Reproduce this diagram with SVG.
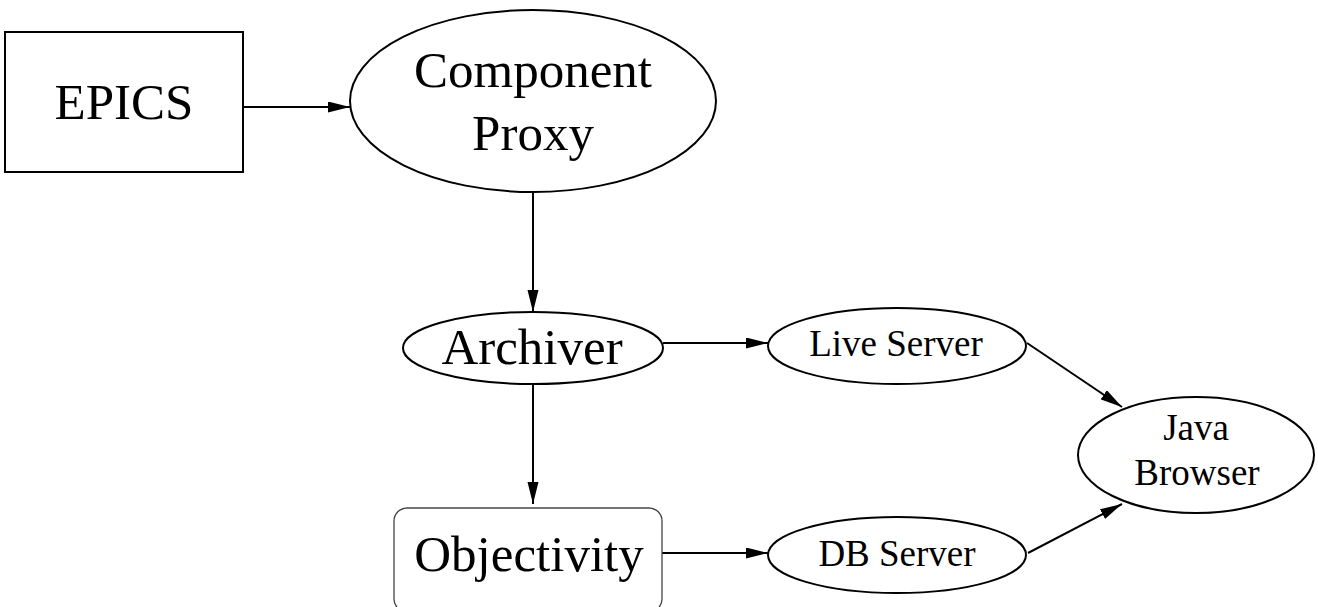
<svg xmlns="http://www.w3.org/2000/svg" width="1318" height="607" viewBox="0 0 1318 607">
<defs>
<style>
.shape{fill:none;stroke:#000;stroke-width:2}
.thin{fill:none;stroke:#444;stroke-width:1.3}
.edge{fill:none;stroke:#000;stroke-width:2}
.big{font-family:"Liberation Serif","Times New Roman",serif;font-size:51px;fill:#000;text-anchor:middle}
.small{font-family:"Liberation Serif","Times New Roman",serif;font-size:37px;fill:#000;text-anchor:middle}
</style>
<marker id="arr" markerUnits="userSpaceOnUse" markerWidth="24" markerHeight="12" refX="22" refY="5.5" orient="auto">
<path d="M0,0 L22,5.5 L0,11 Z" fill="#000"/>
</marker>
</defs>
<rect width="1318" height="607" fill="#fff"/>
<g id="connectors">
<line class="edge" x1="243" y1="107" x2="350" y2="107" marker-end="url(#arr)"/>
<line class="edge" x1="533" y1="193" x2="533" y2="312" marker-end="url(#arr)"/>
<line class="edge" x1="663" y1="343" x2="768" y2="343" marker-end="url(#arr)"/>
<line class="edge" x1="533" y1="384" x2="533" y2="504" marker-end="url(#arr)"/>
<line class="edge" x1="662" y1="553" x2="768" y2="553" marker-end="url(#arr)"/>
<line class="edge" x1="1027" y1="343" x2="1122" y2="407" marker-end="url(#arr)"/>
<line class="edge" x1="1028" y1="553" x2="1122" y2="504" marker-end="url(#arr)"/>
</g>
<g id="epics">
<rect class="shape" x="5" y="32" width="238" height="140"/>
<text class="big" x="124" y="119">EPICS</text>
</g>
<g id="component-proxy">
<ellipse class="shape" cx="533" cy="101" rx="183" ry="91"/>
<text class="big" x="533" y="87">Component</text>
<text class="big" x="533" y="150">Proxy</text>
</g>
<g id="archiver">
<ellipse class="shape" cx="533" cy="348" rx="130" ry="36"/>
<text class="big" x="532" y="364">Archiver</text>
</g>
<g id="objectivity">
<rect class="thin" x="394" y="508" width="268" height="104" rx="13" ry="13"/>
<text class="big" x="529" y="571">Objectivity</text>
</g>
<g id="live-server">
<ellipse class="shape" cx="897" cy="346" rx="129" ry="38"/>
<text class="small" x="896" y="356">Live Server</text>
</g>
<g id="db-server">
<ellipse class="shape" cx="897" cy="555" rx="129" ry="38"/>
<text class="small" x="897" y="566">DB Server</text>
</g>
<g id="java-browser">
<ellipse class="shape" cx="1196" cy="455" rx="118" ry="58"/>
<text class="small" x="1196" y="440">Java</text>
<text class="small" x="1197" y="485">Browser</text>
</g>
</svg>
